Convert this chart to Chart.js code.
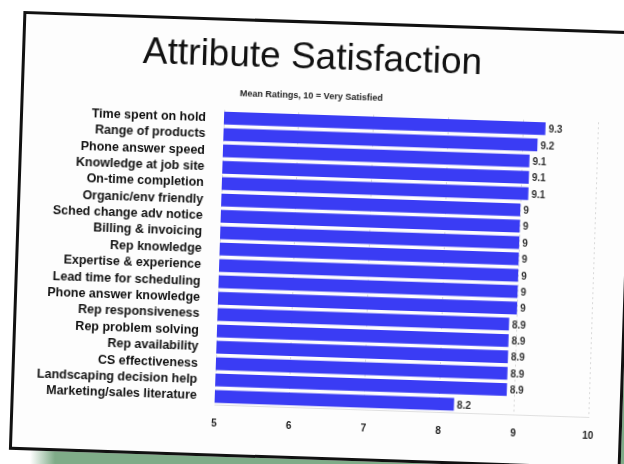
<!DOCTYPE html>
<html>
<head>
<meta charset="utf-8">
<script src="https://cdn.jsdelivr.net/npm/chart.js@4/dist/chart.umd.min.js"></script>
<style>
  html, body { margin: 0; padding: 0; width: 624px; height: 464px; overflow: hidden; background: #ffffff; }
  #green { position: absolute; left: 30px; top: 200px; width: 620px; height: 300px;
           background: linear-gradient(to right, rgba(127,172,136,0) 0px, #7fac88 25px); }
  #slide { position: absolute; left: 16px; top: 21px; width: 612px; height: 439px; box-sizing: border-box;
           border: 3px solid #111; background: #fdfdfd; transform: rotate(1.9deg); transform-origin: 50% 50%; }
  #slide canvas { display: block; }
</style>
</head>
<body>
<div id="green"></div>
<div id="slide"><canvas id="c" width="606" height="433"></canvas></div>
<script>
const categories = [
  "Time spent on hold", "Range of products", "Phone answer speed", "Knowledge at job site",
  "On-time completion", "Organic/env friendly", "Sched change adv notice", "Billing & invoicing",
  "Rep knowledge", "Expertise & experience", "Lead time for scheduling", "Phone answer knowledge",
  "Rep responsiveness", "Rep problem solving", "Rep availability", "CS effectiveness",
  "Landscaping decision help", "Marketing/sales literature"
];
const meanRatings = [9.3, 9.2, 9.1, 9.1, 9.1, 9, 9, 9, 9, 9, 9, 9, 8.9, 8.9, 8.9, 8.9, 8.9, 8.2];
const xTicks = [5, 6, 7, 8, 9, 10];
const titleText = "Attribute Satisfaction";
const subtitleText = "Mean Ratings, 10 = Very Satisfied";

const valueLabels = {
  id: 'valueLabels',
  afterDatasetsDraw(chart) {
    const ctx = chart.ctx;
    const meta = chart.getDatasetMeta(0);
    ctx.save();
    ctx.font = 'bold 10px "Liberation Sans", Arial, sans-serif';
    ctx.fillStyle = '#333';
    ctx.textAlign = 'left';
    ctx.textBaseline = 'middle';
    meta.data.forEach((bar, i) => {
      ctx.fillText(String(meanRatings[i]), bar.x + 3, bar.y + 1);
    });
    ctx.restore();
  }
};

new Chart(document.getElementById('c'), {
  type: 'bar',
  data: {
    labels: categories,
    datasets: [{
      data: meanRatings,
      backgroundColor: '#3a3cf4',
      borderWidth: 0,
      barPercentage: 0.78,
      categoryPercentage: 1
    }]
  },
  options: {
    indexAxis: 'y',
    responsive: false,
    animation: false,
    layout: { padding: { top: 13, bottom: 11, left: 0, right: 31 } },
    plugins: {
      legend: { display: false },
      tooltip: { enabled: false },
      title: {
        display: true, text: titleText, color: '#111',
        font: { family: '"Liberation Sans", Arial, sans-serif', size: 37, weight: 'normal', lineHeight: 1.2 },
        padding: { top: 0, bottom: 0 }
      },
      subtitle: {
        display: true, text: subtitleText, color: '#222',
        font: { family: '"Liberation Sans", Arial, sans-serif', size: 9, weight: 'bold', lineHeight: 1.2 },
        padding: { top: 10, bottom: 11 }
      }
    },
    scales: {
      x: {
        min: 5, max: 10,
        afterBuildTicks(scale) { scale.ticks = xTicks.map(v => ({ value: v })); },
        ticks: { color: '#222', padding: 13,
          font: { family: '"Liberation Sans", Arial, sans-serif', size: 10, weight: 'bold' } },
        grid: { color: '#d8d8d8', drawTicks: false, lineWidth: 1 },
        border: { display: true, color: '#e0e0e0', dash: [2, 3] }
      },
      y: {
        afterFit(scale) { scale.width = 201; },
        ticks: { color: '#111', padding: 18, autoSkip: false,
          font: { family: '"Liberation Sans", Arial, sans-serif', size: 12.5, weight: 'bold' } },
        grid: { display: false, drawTicks: false },
        border: { display: false }
      }
    }
  },
  plugins: [valueLabels]
});
</script>
</body>
</html>
